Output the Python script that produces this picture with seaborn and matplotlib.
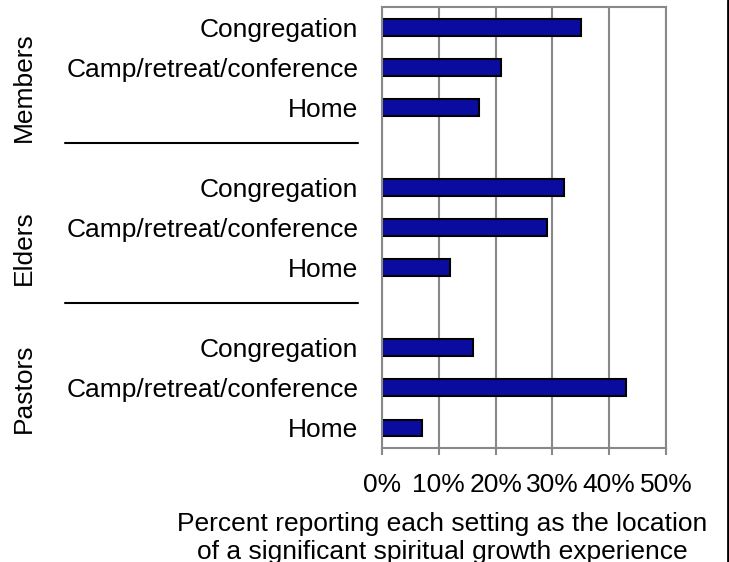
import pandas as pd
import seaborn as sns
import matplotlib.pyplot as plt
from matplotlib.lines import Line2D
from matplotlib.transforms import blended_transform_factory

# Werte (Prozent)
groups = ["Members", "Elders", "Pastors"]
settings = ["Congregation", "Camp/retreat/conference", "Home"]
members = [35, 21, 17]
elders = [32, 29, 12]
pastors = [16, 43, 7]
x_ticks = [0, 10, 20, 30, 40, 50]
x_label = "Percent reporting each setting as the location\nof a significant spiritual growth experience"

# Lange Tabelle, jede Zeile bekommt einen eindeutigen Schluessel
rows = []
for g, vals in zip(groups, [members, elders, pastors]):
    for s, v in zip(settings, vals):
        rows.append({"group": g, "setting": s, "slot": g + "|" + s, "percent": v})
df = pd.DataFrame(rows)

# Reihenfolge mit leeren Plaetzen zwischen den Gruppen
order = []
tick_labels = []
for i, g in enumerate(groups):
    for s in settings:
        order.append(g + "|" + s)
        tick_labels.append(s)
    if i < len(groups) - 1:
        order.append("gap" + str(i))
        tick_labels.append("")

sns.set_style("white")
plt.rcParams["font.family"] = ["Liberation Sans", "DejaVu Sans"]
plt.rcParams["text.color"] = "black"
plt.rcParams["xtick.labelcolor"] = "black"
plt.rcParams["ytick.labelcolor"] = "black"

fig = plt.figure(figsize=(7.29, 5.62), dpi=100)
ax = fig.add_axes([382 / 729, 1 - 448 / 562, 284 / 729, (448 - 7.3) / 562])

sns.barplot(data=df, x="percent", y="slot", order=order, orient="h",
            color="#0A0CA0", saturation=1, edgecolor="black", linewidth=1.5,
            width=0.42, errorbar=None, ax=ax)

ax.set_xlim(0, 50)
ax.set_ylim(len(order) - 0.5, -0.5)
ax.set_xticks(x_ticks)
ax.set_xticklabels([f"{t}%" for t in x_ticks], fontsize=19, color="black")
ax.set_yticks(range(len(order)))
ax.set_yticklabels(tick_labels, fontsize=19, color="black")
ax.set_xlabel("")
ax.set_ylabel("")

ax.grid(axis="x", color="#888888", linewidth=1.5)
ax.set_axisbelow(True)
for sp in ax.spines.values():
    sp.set_color("#888888")
    sp.set_linewidth(1.5)
ax.tick_params(axis="y", length=0, pad=17)
ax.tick_params(axis="x", direction="out", length=5, width=1.5, color="#888888", pad=13, bottom=True)

# Gruppennamen und Trennlinien links
tr = blended_transform_factory(fig.transFigure, ax.transData)
for g, yc in zip(groups, [1.5, 5.5, 9.0]):
    ax.text(24 / 729, yc, g, rotation=90, ha="center", va="center",
            fontsize=19, color="black", transform=tr)
for yy in [2.89, 6.89]:
    ax.add_line(Line2D([65 / 729, 358 / 729], [yy, yy], color="black",
                       linewidth=1.5, transform=tr, clip_on=False))

fig.text(442 / 729, 1 - 512 / 562, x_label, ha="center", va="top",
         fontsize=19, linespacing=1.2, color="black")

# Rahmenlinie rechts
fig.add_artist(Line2D([727.7 / 729, 727.7 / 729], [0, 1], color="black",
                      linewidth=2, transform=fig.transFigure))

plt.savefig("out.png", dpi=100)
